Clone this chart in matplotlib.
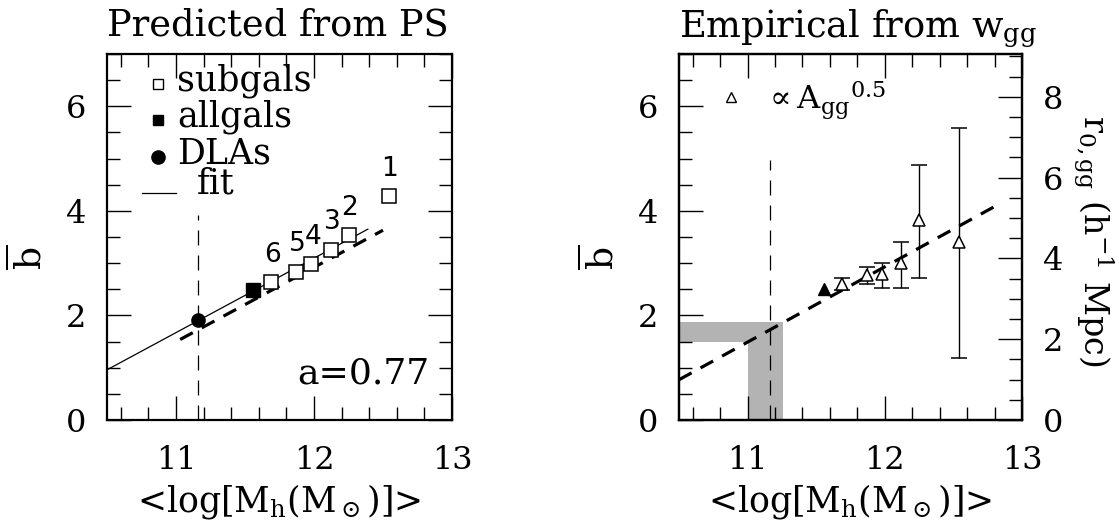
import matplotlib
matplotlib.use('Agg')
import matplotlib.pyplot as plt
from matplotlib.ticker import MultipleLocator

plt.rcParams['font.family'] = 'DejaVu Serif'
plt.rcParams['mathtext.fontset'] = 'dejavuserif'

# left panel: bias predicted from PS
subgal_x = [12.54, 12.25, 12.12, 11.98, 11.87, 11.69]
subgal_b = [4.28, 3.54, 3.26, 2.98, 2.84, 2.64]
subgal_lab = ['1', '2', '3', '4', '5', '6']
allgal_x = [11.56]
allgal_b = [2.49]
dla_x = [11.16]
dla_b = [1.91]
fit_x = [10.5, 12.39]
fit_b = [0.96, 3.65]
dash_left_x = [11.03, 12.50]
dash_left_b = [1.54, 3.63]
vline_x = 11.16
vline_top_left = 3.92

# right panel: empirical from w_gg
emp_x = [11.69, 11.87, 11.98, 12.12, 12.25, 12.54]
emp_b = [2.61, 2.77, 2.80, 3.00, 3.82, 3.41]
emp_lo = [2.49, 2.61, 2.53, 2.52, 2.71, 1.19]
emp_hi = [2.71, 2.93, 3.01, 3.41, 4.87, 5.59]
emp_all_x = [11.56]
emp_all_b = [2.50]
dash_right_x = [10.5, 12.84]
dash_right_b = [0.77, 4.14]
vline_top_right = 4.97
shade_x = [11.0, 11.26]
shade_b = [1.50, 1.88]

xlab = r'<log[M$_\mathrm{h}$(M$_\odot$)]>'
blab = r'$\overline{\mathrm{b}}$'


def style_axes(ax, right=True):
    ax.set_xlim(10.5, 13)
    ax.set_ylim(0, 7)
    ax.set_xticks([11, 12, 13])
    ax.set_yticks([0, 2, 4, 6])
    ax.xaxis.set_minor_locator(MultipleLocator(0.2))
    ax.yaxis.set_minor_locator(MultipleLocator(0.5))
    ax.tick_params(which='both', direction='in', top=True, right=right,
                   width=1, labelsize=23, pad=15)
    ax.tick_params(axis='x', which='both', pad=18)
    ax.tick_params(which='major', length=17)
    ax.tick_params(which='minor', length=9.5)
    for s in ax.spines.values():
        s.set_linewidth(1.6)
    ax.set_xlabel(xlab, fontsize=25)
    ax.xaxis.set_label_coords(0.5, -0.17)
    ax.set_ylabel(blab, fontsize=26)
    ax.yaxis.set_label_coords(-0.17, 0.445)


fig = plt.figure(figsize=(11.18, 5.27), dpi=100)
ax1 = fig.add_axes([0.0957, 0.2030, 0.3086, 0.6945])
ax3 = fig.add_axes([0.6073, 0.2030, 0.3068, 0.6945])

# ---- left panel
style_axes(ax1)
ax1.plot(fit_x, fit_b, color='k', lw=0.9)
ax1.plot(dash_left_x, dash_left_b, color='k', lw=2.3, dashes=(4.5, 3.2))
ax1.plot([vline_x, vline_x], [0, vline_top_left], color='k', lw=0.9, dashes=(12, 8))
ax1.plot(subgal_x, subgal_b, 's', ms=9.5, mfc='white', mec='k', mew=1.1)
ax1.plot(allgal_x, allgal_b, 's', ms=9.5, color='k')
ax1.plot(dla_x, dla_b, 'o', ms=9.5, color='k')
for x, b, t in zip(subgal_x, subgal_b, subgal_lab):
    ax1.annotate(t, (x, b), xytext=(1, 19.5), textcoords='offset points',
                 ha='center', va='center', fontsize=19, family='DejaVu Sans')

# legend drawn by hand
ax1.plot([0.1487], [0.918], 's', ms=7, mfc='white', mec='k', mew=1, transform=ax1.transAxes)
ax1.plot([0.1487], [0.820], 's', ms=7.5, color='k', transform=ax1.transAxes)
ax1.plot([0.1487], [0.719], 'o', ms=9.5, color='k', transform=ax1.transAxes)
ax1.plot([0.1006, 0.200], [0.619, 0.619], color='k', lw=0.9, transform=ax1.transAxes)
ax1.text(0.203, 0.899, 'subgals', fontsize=25, transform=ax1.transAxes, va='baseline')
ax1.text(0.203, 0.801, 'allgals', fontsize=25, transform=ax1.transAxes, va='baseline')
ax1.text(0.203, 0.701, 'DLAs', fontsize=25, transform=ax1.transAxes, va='baseline')
ax1.text(0.259, 0.619, 'fit', fontsize=25, transform=ax1.transAxes, va='baseline')
ax1.text(0.550, 0.101, 'a=0.77', fontsize=26, transform=ax1.transAxes, va='baseline')
ax1.set_title('Predicted from PS', loc='left', fontsize=26.5, pad=13)

# ---- right panel
style_axes(ax3, right=False)
ax3.fill_between([10.5, shade_x[1]], shade_b[0], shade_b[1], color='#b3b3b3', lw=0)
ax3.fill_between(shade_x, 0, shade_b[1], color='#b3b3b3', lw=0)
ax3.plot(dash_right_x, dash_right_b, color='k', lw=2.3, dashes=(4.5, 3.2))
ax3.plot([vline_x, vline_x], [0, vline_top_right], color='k', lw=0.9, dashes=(12, 8))
yerr = [[b - lo for b, lo in zip(emp_b, emp_lo)], [hi - b for b, hi in zip(emp_b, emp_hi)]]
ax3.errorbar(emp_x, emp_b, yerr=yerr, fmt='^', ms=9, mfc='white', mec='k', mew=1.1,
             ecolor='k', elinewidth=1, capsize=6, capthick=1)
ax3.plot(emp_all_x, emp_all_b, '^', ms=9, color='k')
ax3.plot([0.152], [0.883], '^', ms=7, mfc='white', mec='k', mew=1, transform=ax3.transAxes)
ax3.text(0.245, 0.847, r'$\propto$A$_\mathrm{gg}{}^{0.5}$', fontsize=23,
         transform=ax3.transAxes, va='baseline')
ax3.set_title(r'Empirical from w$_\mathrm{gg}$', loc='left', fontsize=26.5, pad=13)

ax4 = ax3.twinx()
ax4.set_ylim(0, 9.06)
ax4.set_yticks([0, 2, 4, 6, 8])
ax4.yaxis.set_minor_locator(MultipleLocator(0.5))
ax4.tick_params(which='both', direction='in', width=1, labelsize=23, pad=15)
ax4.tick_params(which='major', length=17)
ax4.tick_params(which='minor', length=9.5)
ax3.tick_params(which='both', right=False)
for s in ax4.spines.values():
    s.set_linewidth(1.6)
ax4.text(1.207, 0.489, r'r$_{0,\mathrm{gg}}$ (h$^{-1}$ Mpc)', fontsize=24, rotation=-90,
         ha='center', va='center', transform=ax4.transAxes)

fig.savefig('out.png', dpi=100)
